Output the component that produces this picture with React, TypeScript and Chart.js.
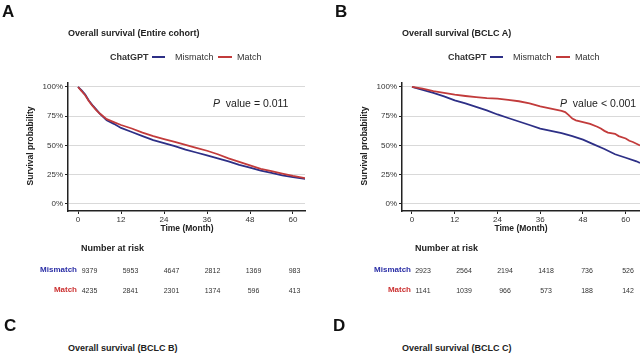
import React, { useEffect, useRef } from "react";
import { Chart, registerables } from "chart.js";
Chart.register(...registerables);

// ---------- data ----------
const X_TICKS = [0, 12, 24, 36, 48, 60];
const Y_TICKS = [0, 25, 50, 75, 100];

const A_TIMES = [0, 1, 2, 3, 4, 5, 6, 7, 8, 10, 12, 15, 18, 21, 24, 27, 30, 33, 36, 39, 42, 45, 48, 51, 54, 57, 60, 63.4];
const A_MISMATCH = [100, 97, 93.5, 88.5, 84.5, 81, 77.5, 74.5, 71.5, 68.5, 65, 61.5, 58, 54.5, 52, 49.5, 46.5, 44, 41.5, 39, 36.5, 33.5, 31, 28.5, 26.5, 24.5, 23, 21.5];
const A_MATCH = [100, 96.5, 93, 88, 84, 80.5, 77.5, 75, 72.5, 70, 67.5, 64.5, 61, 58, 55.5, 53, 50.5, 48, 45.5, 42.5, 39, 36, 33, 30, 28, 26, 24, 22];

const B_TIMES_MISMATCH = [0, 3, 6, 9, 12, 15, 18, 21, 24, 27, 30, 33, 36, 39, 42, 45, 48, 51, 54, 57, 60, 63, 64];
const B_MISMATCH = [100, 97.5, 95, 92, 88.5, 86, 83, 80, 76.5, 73.5, 70.5, 67.5, 64.5, 62.5, 60.5, 58, 55, 51, 47, 42.5, 39.5, 36.5, 35];
const B_TIMES_MATCH = [0, 3, 6, 9, 12, 15, 18, 21, 24, 27, 30, 33, 36, 39, 42, 43, 44, 45, 46, 48, 50, 52, 53, 54, 55, 57, 58, 60, 61, 62, 63, 64];
const B_MATCH = [100, 98.5, 96.5, 95, 93.5, 92.3, 91.3, 90.5, 90, 89, 87.8, 86, 83.5, 81.5, 79.5, 78.5, 76, 73, 71.5, 70, 68.5, 66, 64.5, 62.5, 61, 60, 58, 56, 54, 53, 51.5, 50];

const RISK_TIMES = [0, 12, 24, 36, 48, 60];
const A_RISK_MISMATCH = [9379, 5953, 4647, 2812, 1369, 983];
const A_RISK_MATCH = [4235, 2841, 2301, 1374, 596, 413];
const B_RISK_MISMATCH = [2923, 2564, 2194, 1418, 736, 526];
const B_RISK_MATCH = [1141, 1039, 966, 573, 188, 142];

// ---------- style ----------
const BLUE = "#2d2f86";
const RED = "#c23b3b";
const LABEL_BLUE = "#2b2fa6";
const LABEL_RED = "#cc3333";
const FONT = '"Liberation Sans", Arial, sans-serif';
const INK = "#222";

type TProps = {
  x: number; y: number; size?: number; bold?: boolean; color?: string;
  align?: "left" | "center" | "right"; rotate?: boolean; children: React.ReactNode;
};
function T({ x, y, size = 9, bold = false, color = INK, align = "left", rotate = false, children }: TProps) {
  if (rotate) {
    return (
      <div style={{
        position: "absolute", left: x, top: y, fontSize: size, lineHeight: `${size}px`,
        fontWeight: bold ? 700 : 400, color, whiteSpace: "nowrap", fontFamily: FONT,
        transform: "translate(-50%, -50%) rotate(-90deg)",
      }}>{children}</div>
    );
  }
  const tx = align === "left" ? "0" : align === "center" ? "-50%" : "-100%";
  return (
    <div style={{
      position: "absolute", left: x, top: y - size / 2, fontSize: size, lineHeight: `${size}px`,
      fontWeight: bold ? 700 : 400, color, whiteSpace: "nowrap", fontFamily: FONT,
      transform: `translateX(${tx})`,
    }}>{children}</div>
  );
}

type Series = { times: number[]; values: number[]; color: string };

function KMChart({ xMax, padLeft, padRight, series }: { xMax: number; padLeft: number; padRight: number; series: Series[] }) {
  const ref = useRef<HTMLCanvasElement>(null);
  useEffect(() => {
    const tickFont = { family: FONT, size: 8 };
    const chart = new Chart(ref.current!, {
      type: "line",
      data: {
        datasets: series.map((s) => ({
          data: s.times.map((t, i) => ({ x: t, y: s.values[i] })),
          borderColor: s.color,
          borderWidth: 1.8,
          pointRadius: 0,
          fill: false,
          tension: 0,
        })),
      },
      options: {
        animation: false,
        responsive: false,
        maintainAspectRatio: false,
        layout: { padding: { left: padLeft, right: padRight, top: 82.3, bottom: 15 } },
        plugins: { legend: { display: false }, tooltip: { enabled: false } },
        scales: {
          x: {
            type: "linear",
            min: -2.8,
            max: xMax,
            afterBuildTicks: (s: any) => { s.ticks = X_TICKS.map((v) => ({ value: v })); },
            afterFit: (s: any) => { s.height = 14; },
            grid: { drawOnChartArea: false, drawTicks: true, tickLength: 3, tickColor: INK, tickWidth: 1 },
            border: { display: true, color: INK, width: 1.5 },
            ticks: { font: tickFont, color: "#333", padding: 1, maxRotation: 0 },
          },
          y: {
            type: "linear",
            min: -6,
            max: 104,
            afterBuildTicks: (s: any) => { s.ticks = Y_TICKS.map((v) => ({ value: v })); },
            afterFit: (s: any) => { s.width = 30; },
            grid: { color: "#d9d9d9", lineWidth: 1, drawTicks: true, tickLength: 3, tickColor: INK },
            border: { display: true, color: INK, width: 1.5 },
            ticks: { font: tickFont, color: "#333", padding: 2, callback: (v: any) => `${v}%` },
          },
        },
      },
    });
    return () => chart.destroy();
  }, []);
  return <canvas ref={ref} width={320} height={240} style={{ position: "absolute", left: 0, top: 0, width: 320, height: 240 }} />;
}

type PanelProps = {
  dx: number; letter: string; title: string; pText: string;
  xMax: number; padLeft: number; padRight: number; shift: number;
  mismatchT: number[]; mismatchV: number[]; matchT: number[]; matchV: number[];
  riskMismatch: number[]; riskMatch: number[]; tableX0: number; legendX: number; pX: number; letterX: number;
};

function Panel(p: PanelProps) {
  const s = p.shift;
  const step = 41 / 12;
  return (
    <div style={{ position: "absolute", left: p.dx, top: 0, width: 320, height: 300 }}>
      <KMChart
        xMax={p.xMax} padLeft={p.padLeft} padRight={p.padRight}
        series={[
          { times: p.matchT, values: p.matchV, color: RED },
          { times: p.mismatchT, values: p.mismatchV, color: BLUE },
        ]}
      />
      <T x={p.letterX} y={11} size={17} bold color="#111">{p.letter}</T>
      <T x={68 + s} y={33} size={9} bold>{p.title}</T>
      {/* legend */}
      <T x={p.legendX} y={57} size={9} bold color="#333">ChatGPT</T>
      <div style={{ position: "absolute", left: p.legendX + 42, top: 56, width: 13, height: 2, background: BLUE }} />
      <T x={p.legendX + 65} y={57} size={9} color="#333">Mismatch</T>
      <div style={{ position: "absolute", left: p.legendX + 108, top: 56, width: 14, height: 2, background: RED }} />
      <T x={p.legendX + 127} y={57} size={9} color="#333">Match</T>
      {/* p value */}
      <T x={p.pX} y={103} size={10.5} color="#222">
        <i>P</i>&nbsp;&nbsp;{p.pText}
      </T>
      {/* axis titles */}
      <T x={30 + s} y={146} size={8.5} bold rotate>Survival probability</T>
      <T x={187 + s} y={228} size={8.5} bold align="center">Time (Month)</T>
      {/* risk table */}
      <T x={81 + s} y={248} size={9} bold>Number at risk</T>
      <T x={77 + s} y={270} size={8} bold color={LABEL_BLUE} align="right">Mismatch</T>
      <T x={77 + s} y={290} size={8} bold color={LABEL_RED} align="right">Match</T>
      {RISK_TIMES.map((t, i) => (
        <T key={"m" + i} x={p.tableX0 + t * step} y={270} size={7} color="#333" align="center">{p.riskMismatch[i]}</T>
      ))}
      {RISK_TIMES.map((t, i) => (
        <T key={"r" + i} x={p.tableX0 + t * step} y={290} size={7} color="#333" align="center">{p.riskMatch[i]}</T>
      ))}
    </div>
  );
}

export default function App() {
  return (
    <div style={{ position: "fixed", left: 0, top: 0, width: 640, height: 360, background: "#fff", overflow: "hidden", fontFamily: FONT }}>
      <Panel
        dx={0} letter="A" title="Overall survival (Entire cohort)" pText="value = 0.011"
        xMax={63.35} padLeft={38} padRight={15} shift={0}
        mismatchT={A_TIMES} mismatchV={A_MISMATCH} matchT={A_TIMES} matchV={A_MATCH}
        riskMismatch={A_RISK_MISMATCH} riskMatch={A_RISK_MATCH} tableX0={89.5} legendX={110} pX={213} letterX={2}
      />
      <Panel
        dx={320} letter="B" title="Overall survival (BCLC A)" pText="value < 0.001"
        xMax={64} padLeft={52} padRight={0} shift={14}
        mismatchT={B_TIMES_MISMATCH} mismatchV={B_MISMATCH} matchT={B_TIMES_MATCH} matchV={B_MATCH}
        riskMismatch={B_RISK_MISMATCH} riskMatch={B_RISK_MATCH} tableX0={103} legendX={128} pX={240} letterX={15}
      />
      <T x={4} y={325} size={17} bold color="#111">C</T>
      <T x={68} y={348} size={9} bold>Overall survival (BCLC B)</T>
      <T x={333} y={325} size={17} bold color="#111">D</T>
      <T x={402} y={348} size={9} bold>Overall survival (BCLC C)</T>
    </div>
  );
}
